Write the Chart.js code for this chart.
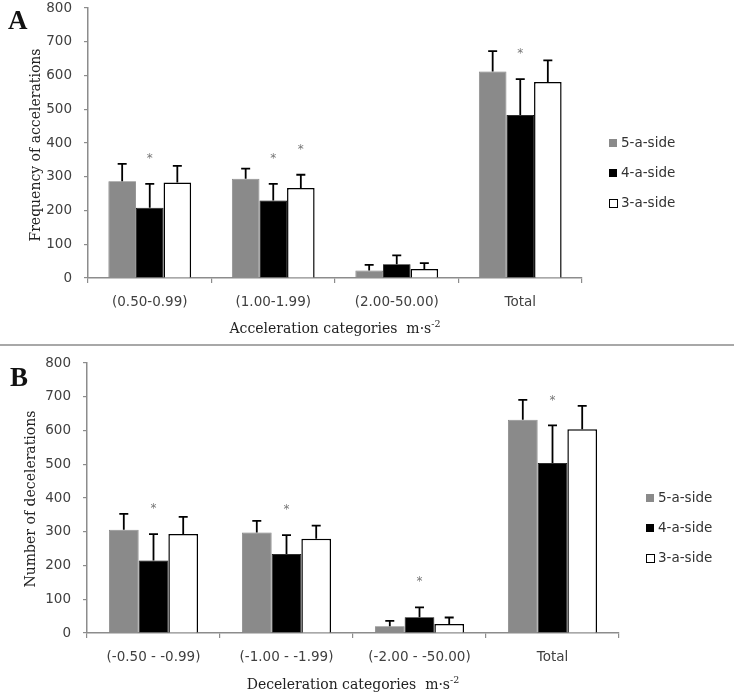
<!DOCTYPE html>
<html>
<head>
<meta charset="utf-8">
<script src="https://cdn.jsdelivr.net/npm/chart.js@4.4.0/dist/chart.umd.min.js"></script>
<style>
  body { margin: 0; background: #fff; }
  #wrap { position: relative; width: 734px; height: 696px; overflow: hidden; }
  canvas { position: absolute; left: 0; }
  .panel { position: absolute; font-family: 'Liberation Serif', serif; font-weight: bold; font-size: 27px; color: #111; }
  .xt { position: absolute; font-family: 'DejaVu Serif', serif; font-size: 14px; color: #222; white-space: nowrap; transform: translate(-50%, -50%); }
  .xt sup { font-size: 9.5px; vertical-align: 6px; line-height: 0; }
  .yt { position: absolute; font-family: 'DejaVu Serif', serif; font-size: 14px; color: #222; white-space: nowrap; transform: translate(-50%, -50%) rotate(-90deg); }
  .sep { position: absolute; left: 0; top: 344px; width: 734px; border-top: 2px solid #a8a8a8; }
</style>
</head>
<body>
<div id="wrap">
  <canvas id="chartA" width="734" height="340" style="top:0"></canvas>
  <canvas id="chartB" width="734" height="348" style="top:348px"></canvas>
  <div class="panel" style="left:8px; top:5px">A</div>
  <div class="panel" style="left:10px; top:362px">B</div>
  <div class="sep"></div>
  <div class="xt" style="left:335px; top:328px">Acceleration categories&nbsp; m·s<sup>-2</sup></div>
  <div class="yt" style="left:35px; top:145px">Frequency of accelerations</div>
  <div class="xt" style="left:353px; top:684px">Deceleration categories&nbsp; m·s<sup>-2</sup></div>
  <div class="yt" style="left:30px; top:499px">Number of decelerations</div>
</div>
<script>
// Categories
const catsA = ['(0.50-0.99)', '(1.00-1.99)', '(2.00-50.00)', 'Total'];
const catsB = ['(-0.50 - -0.99)', '(-1.00 - -1.99)', '(-2.00 - -50.00)', 'Total'];
const seriesNames = ['5-a-side', '4-a-side', '3-a-side'];
const yTicks = [0, 100, 200, 300, 400, 500, 600, 700, 800];

// Panel A - accelerations (mean, SD)
const accel5 = [287, 294, 22, 612];
const accel4 = [208, 230, 41, 483];
const accel3 = [283, 267, 27, 581];
const accelSd5 = [51, 30, 17, 60];
const accelSd4 = [71, 49, 26, 106];
const accelSd3 = [49, 39, 17, 64];
const accelStar5 = [0, 0, 0, 0];
const accelStar4 = [1, 1, 0, 1];
const accelStar3 = [0, 1, 0, 0];

// Panel B - decelerations (mean, SD)
const decel5 = [306, 298, 20, 632];
const decel4 = [215, 234, 47, 504];
const decel3 = [293, 279, 27, 604];
const decelSd5 = [47, 34, 16, 59];
const decelSd4 = [78, 56, 29, 111];
const decelSd3 = [51, 39, 19, 69];
const decelStar5 = [0, 0, 0, 0];
const decelStar4 = [1, 1, 1, 1];
const decelStar3 = [0, 0, 0, 0];

const fills = ['#8a8a8a', '#000000', '#ffffff'];
const borders = ['#7a7a7a', '#000000', '#000000'];
const axisGray = '#8c8c8c';

// error bars, asterisks and legend
const extras = {
  id: 'extras',
  afterDatasetsDraw(chart) {
    const ctx = chart.ctx;
    const ys = chart.scales.y;
    chart.data.datasets.forEach((ds, i) => {
      chart.getDatasetMeta(i).data.forEach((bar, j) => {
        const top = ys.getPixelForValue(ds.data[j] + ds.sd[j]);
        ctx.save();
        ctx.strokeStyle = '#000';
        ctx.lineWidth = 1.8;
        ctx.beginPath();
        ctx.moveTo(bar.x, bar.y);
        ctx.lineTo(bar.x, top);
        ctx.moveTo(bar.x - 4.5, top);
        ctx.lineTo(bar.x + 4.5, top);
        ctx.stroke();
        if (ds.stars[j]) {
          ctx.fillStyle = '#777';
          ctx.font = '12px "DejaVu Sans"';
          ctx.textAlign = 'center';
          ctx.textBaseline = 'middle';
          ctx.fillText('*', bar.x, top - 25);
        }
        ctx.restore();
      });
    });
  },
  afterDraw(chart, args, opts) {
    const ctx = chart.ctx;
    chart.data.datasets.forEach((ds, i) => {
      const cy = opts.y + i * 30;
      ctx.save();
      ctx.fillStyle = ds.backgroundColor;
      ctx.fillRect(opts.x, cy - 4, 8, 8);
      if (i === 2) {
        ctx.strokeStyle = '#000';
        ctx.lineWidth = 1;
        ctx.strokeRect(opts.x + 0.5, cy - 3.5, 8, 8);
      }
      ctx.fillStyle = '#333';
      ctx.font = '13.5px "DejaVu Sans"';
      ctx.textAlign = 'left';
      ctx.textBaseline = 'middle';
      ctx.fillText(ds.label, opts.x + 12, cy);
      ctx.restore();
    });
  }
};

function makeChart(id, cats, vals, sds, stars, yWidth, padRight, padTop, xHeight, legend) {
  const datasets = vals.map((v, i) => ({
    label: seriesNames[i],
    data: v,
    sd: sds[i],
    stars: stars[i],
    backgroundColor: fills[i],
    borderColor: borders[i],
    borderWidth: i === 2 ? 1.5 : 0.8,
    categoryPercentage: 0.67,
    barPercentage: 1.0
  }));
  return new Chart(document.getElementById(id), {
    type: 'bar',
    data: { labels: cats, datasets: datasets },
    plugins: [extras],
    options: {
      responsive: false,
      animation: false,
      layout: { padding: { left: 0, right: padRight, top: padTop, bottom: 0 } },
      plugins: {
        legend: { display: false },
        tooltip: { enabled: false },
        extras: legend
      },
      scales: {
        x: {
          grid: { offset: true, drawOnChartArea: false, drawTicks: true, tickLength: 5, color: axisGray, lineWidth: 1.2 },
          border: { color: axisGray, width: 1.5 },
          ticks: { color: '#404040', font: { family: 'DejaVu Sans', size: 13.5 }, padding: 11, maxRotation: 0 },
          afterFit(s) { s.height = xHeight; s.paddingLeft = 0; s.paddingRight = 0; }
        },
        y: {
          min: 0, max: 800,
          afterBuildTicks(s) { s.ticks = yTicks.map(v => ({ value: v })); },
          grid: { drawOnChartArea: false, drawTicks: true, tickLength: 4, color: axisGray, lineWidth: 1.2 },
          border: { color: axisGray, width: 1.5 },
          ticks: { color: '#404040', font: { family: 'DejaVu Sans', size: 13.5 }, padding: 12 },
          afterFit(s) { s.width = yWidth; s.paddingTop = 0; s.paddingBottom = 0; }
        }
      }
    }
  });
}

makeChart('chartA', catsA,
  [accel5, accel4, accel3], [accelSd5, accelSd4, accelSd3], [accelStar5, accelStar4, accelStar3],
  88, 152, 8, 62, { x: 609, y: 143 });

makeChart('chartB', catsB,
  [decel5, decel4, decel3], [decelSd5, decelSd4, decelSd3], [decelStar5, decelStar4, decelStar3],
  87, 115, 15, 63, { x: 646, y: 150 });
</script>
</body>
</html>
